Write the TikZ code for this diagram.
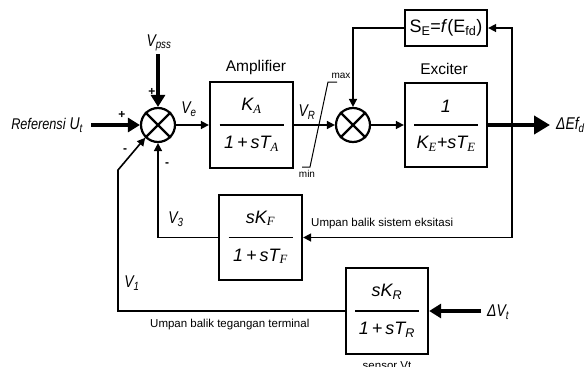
\documentclass[tikz,border=0pt]{standalone}
\usepackage{fontspec}
\setmainfont{Liberation Sans}
\newfontfamily\srf{Liberation Serif}
\newfontfamily\narrow{Liberation Sans}[FakeStretch=0.82]
\usetikzlibrary{arrows.meta,calc}
\newcommand\ssub[1]{\textsubscript{\srf\itshape #1}}
\tikzset{
 blk/.style={draw,line width=2.3pt,minimum width=83pt,minimum height=86pt,inner sep=0pt},
 sumj/.style={draw,circle,line width=2.2pt,minimum size=34pt,inner sep=0pt},
 ln/.style={line width=1.6pt},
 arr/.style={ln,-{Triangle[length=8pt,width=8pt]}},
 thk/.style={line width=4.5pt,-{Triangle[length=12pt,width=14pt]}},
 lbl/.style={font=\fontsize{17}{19}\selectfont\narrow\itshape,inner sep=0pt},
 frac/.style={font=\fontsize{18}{20}\selectfont\itshape,inner sep=0pt},
 ttl/.style={font=\fontsize{15.5}{18}\selectfont,inner sep=0pt},
 small/.style={font=\fontsize{11.5}{13}\selectfont,inner sep=0pt},
 sgn/.style={font=\fontsize{12}{14}\selectfont\bfseries,inner sep=0pt},
}
\begin{document}
\begin{tikzpicture}[x=1pt,y=-1pt]
\useasboundingbox (0,0) rectangle (587,367);
% junctions and blocks
\node[sumj] (s1) at (158,125) {};
\node[sumj] (s2) at (353,125) {};
\foreach \s in {s1,s2}{
  \draw[line width=2.2pt] (\s.north east) -- (\s.south west);
  \draw[line width=2.2pt] (\s.north west) -- (\s.south east);
}
\node[blk] (amp) at (251.5,125) {};
\node[blk,minimum width=82pt,minimum height=84pt] (exc) at (446,125) {};
\node[blk,minimum width=82pt,minimum height=36pt,font=\fontsize{18}{20}\selectfont] (se) at (446,28) {S\textsubscript{E}=\textit{f}(E\textsubscript{fd})};
\node[blk,minimum height=85pt] (kf) at (260.5,237.5) {};
\node[blk,minimum width=82pt] (kr) at (387,311) {};
% fractions
\foreach \b/\n/\d in {amp/{K\ssub{A}}/{1\,+\,sT\ssub{A}},exc/{1}/{K\ssub{E}+sT\ssub{E}},kf/{sK\ssub{F}}/{1\,+\,sT\ssub{F}},kr/{sK\textsubscript{R}}/{1\,+\,sT\textsubscript{R}}}{
  \draw[line width=1.6pt] ($(\b.center)+(-32,0)$) -- ($(\b.center)+(32,0)$);
  \node[frac] at ($(\b.center)+(0,-19)$) {\n};
  \node[frac] at ($(\b.center)+(0,19)$) {\d};
}
% titles
\node[ttl] (tamp) at (256,67) {Amplifier};
\node[ttl] (texc) at (444,69) {Exciter};
% input
\node[lbl,anchor=east] (ref) at (83,125) {{\fontsize{15.5}{18}\selectfont Referensi} U\textsubscript{t}};
\coordinate (in) at (91,125);
\draw[thk] (in) -- (s1.west);
\node[lbl] (vpss) at (159,43) {V\textsubscript{pss}};
\coordinate (vtop) at (158,54);
\draw[thk] (vtop) -- (s1.north);
\node[sgn] (p1) at (122,115) {+};
\node[sgn] (p2) at (152,92) {+};
\node[sgn] (m1) at (125,151) {-};
\node[sgn] (m2) at (167,165) {-};
% forward path
\draw[arr] (s1.east) -- (amp.west);
\node[lbl] (ve) at (189,109) {V\textsubscript{e}};
\draw[arr] (amp.east) -- (s2.west);
\node[lbl] (vr) at (307,112) {V\textsubscript{R}};
\draw[line width=1pt] (302,167) -- (310,167) -- (328,82) -- (337,82);
\node[small,font=\fontsize{10}{12}\selectfont] (mx) at (341,76) {max};
\node[small,font=\fontsize{10}{12}\selectfont] (mn) at (307,174) {min};
\draw[arr] (se.west) -| (s2.north);
\draw[arr] (s2.east) -- (exc.west);
\coordinate (out) at (550,125);
\draw[line width=4.5pt,-{Triangle[length=16pt,width=18pt]}] (exc.east) -- (out);
\node[lbl,anchor=west] (efd) at (556,125) {ΔEf\textsubscript{d}};
% exciter feedback
\coordinate (fb) at (512,125);
\draw[arr] (fb) |- (se.east);
\draw[arr] (fb) |- (kf.east);
\node[small,anchor=west] (ube) at (311,224) {Umpan balik sistem eksitasi};
\draw[arr] (kf.west) -| (s1.south);
\node[lbl] (v3) at (176,219) {V\textsubscript{3}};
% terminal voltage feedback
\coordinate (v1c) at (118,170);
\draw[arr] (kr.west) -| (v1c) -- (s1.south west);
\node[lbl] (v1) at (132,283) {V\textsubscript{1}};
\node[small,anchor=west] (ubt) at (150,325) {Umpan balik tegangan terminal};
\coordinate (dvt) at (481,311);
\draw[thk] (dvt) -- (kr.east);
\node[lbl,anchor=west] (dv) at (487,312) {ΔV\textsubscript{t}};
\node[small] (sen) at (387,366) {sensor Vt};
\end{tikzpicture}
\end{document}
